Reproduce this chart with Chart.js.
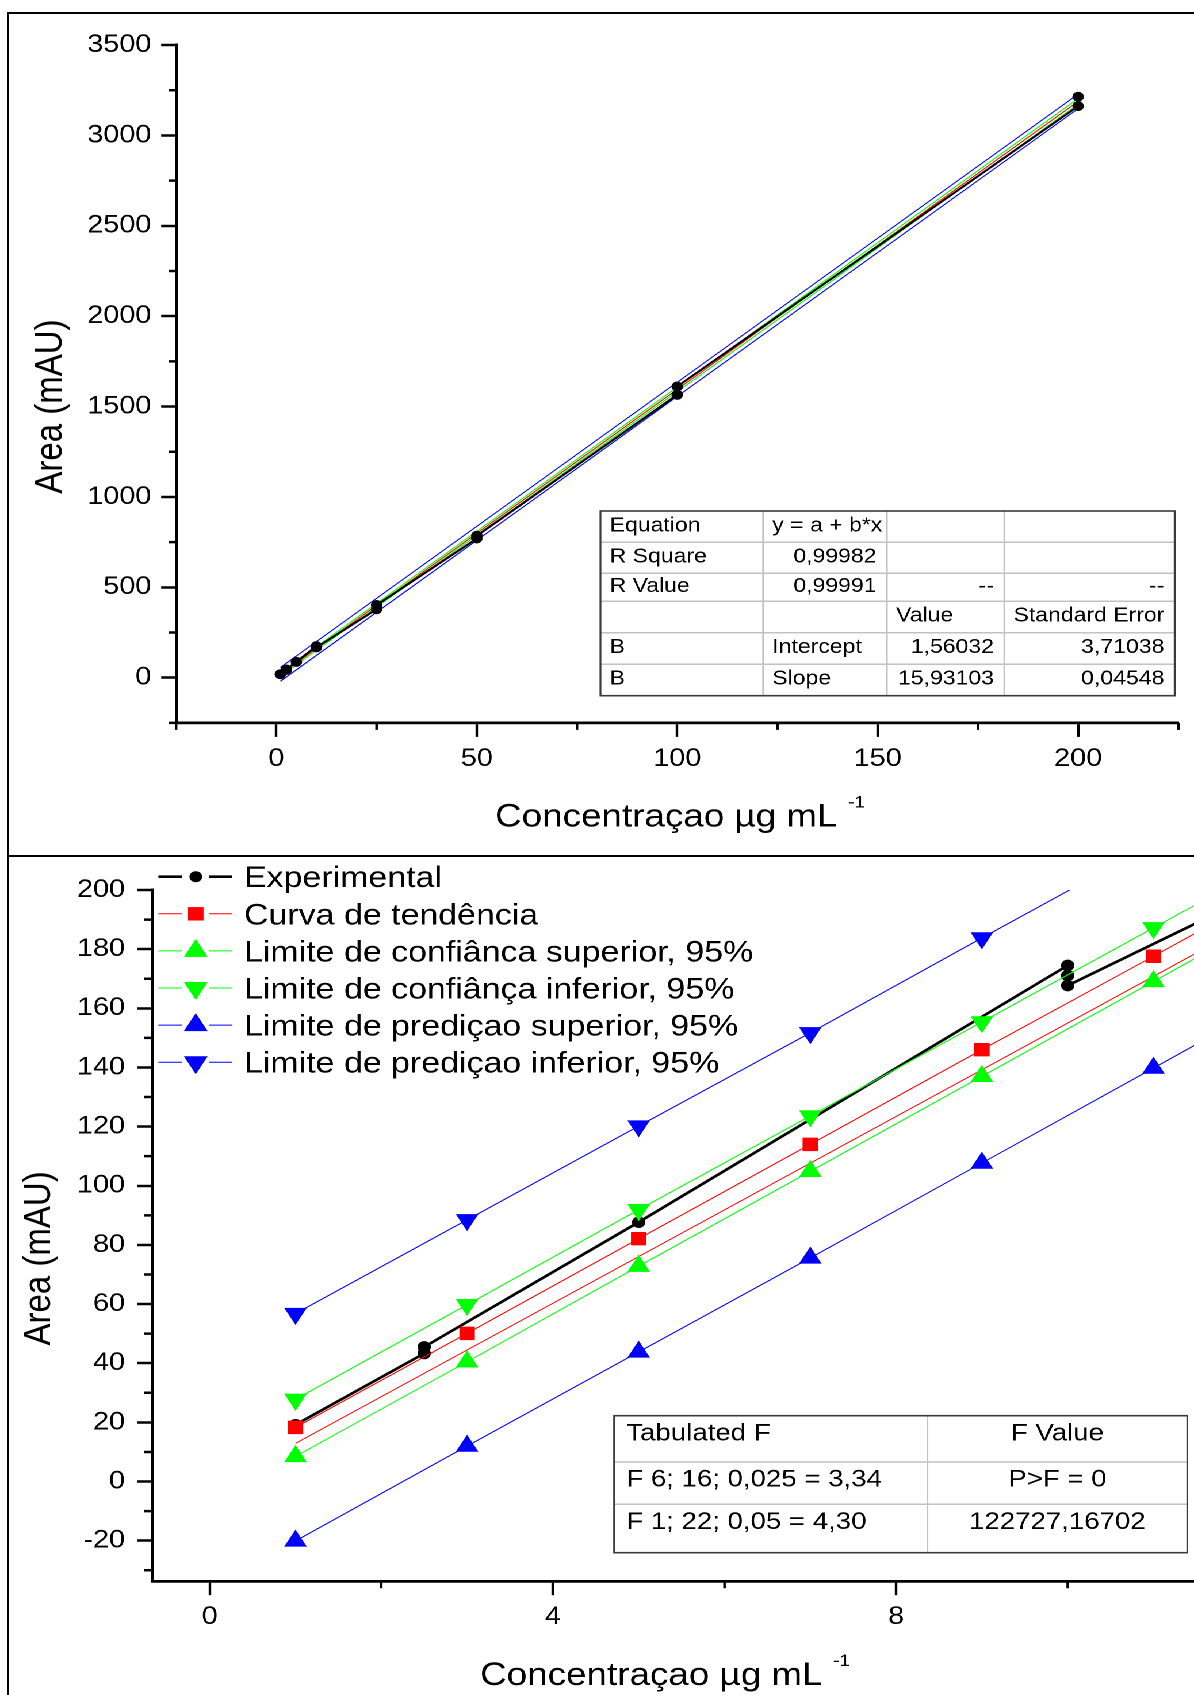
<!DOCTYPE html>
<html>
<head>
<meta charset="utf-8">
<script src="https://cdn.jsdelivr.net/npm/chart.js@4.4.1/dist/chart.umd.min.js"></script>
<style>
html, body { margin: 0; padding: 0; background: #fff; overflow: hidden; }
/* the source figure is stretched ~15% horizontally, so draw narrow and stretch */
#page { position: absolute; left: 0; top: 0; width: 1038px; height: 1695px;
        transform: scaleX(1.15029); transform-origin: 0 0; }
#page canvas { position: absolute; left: 0; }
.rule { position: absolute; background: #000; }
</style>
</head>
<body>
<div id="page">
  <canvas id="topChart" width="1038" height="856" style="top:0"></canvas>
  <canvas id="bottomChart" width="1038" height="839" style="top:856px"></canvas>
  <div class="rule" style="left:6.3px; top:11.5px; width:1032px; height:2.5px"></div>
  <div class="rule" style="left:6.3px; top:11.5px; width:2.2px; height:1684px"></div>
  <div class="rule" style="left:6.3px; top:854.8px; width:1032px; height:2.5px"></div>
</div>
<script>
const FONT = "'Liberation Sans', Arial, Helvetica, sans-serif";
Chart.defaults.font.family = FONT;

// experimental points (both panels)
const expX = [1, 2.5, 2.5, 5, 10, 10, 10, 25, 25, 50, 50, 100, 100, 200, 200];
const expY = [19.2, 43.3, 45.5, 87.7, 174.5, 171.1, 167.7, 379, 402, 770, 785, 1565, 1611, 3162, 3214];

// top panel: fit and bands over full range
const bandX = [1, 200];
const fitTopY = [17.5, 3188];
const confUpperTopY = [27.5, 3204];
const confLowerTopY = [8.5, 3172];
const predUpperTopY = [56.5, 3228];
const predLowerTopY = [-20, 3148];

// bottom panel: low concentration detail
const zoomX = [1, 3, 5, 7, 9, 11, 13];
const curvaY = [18.3, 50.1, 82.1, 114.0, 146.0, 177.6, 209.5];
const confSupY = [8.5, 40.5, 72.8, 104.9, 137.0, 169.1, 201.2];
const confInfY = [27.8, 59.8, 91.9, 123.6, 155.4, 187.2, 219.0];
const predSupY = [-20.1, 12.0, 43.8, 75.6, 107.7, 139.8, 171.9];
const predInfY = [56.8, 88.5, 120.2, 151.7, 183.8, 215.5, 247.0];
const fitLineX = [1, 11.5];
const fitLineY = [12.9, 178.7];

const legendLabels = ['Experimental', 'Curva de tendência', 'Limite de confiânca superior, 95%',
  'Limite de confiânça inferior, 95%', 'Limite de prediçao superior, 95%', 'Limite de prediçao inferior, 95%'];

// ticks
const topXTicks = [0, 50, 100, 150, 200];
const topXMinor = [-25, 25, 75, 125, 175, 225];
const topYTicks = [0, 500, 1000, 1500, 2000, 2500, 3000, 3500];
const topYMinor = [-250, 250, 750, 1250, 1750, 2250, 2750, 3250];
const botXTicks = [0, 4, 8];
const botXMinor = [2, 6, 10];
const botYTicks = [-20, 0, 20, 40, 60, 80, 100, 120, 140, 160, 180, 200];
const botYMinor = [-30, -10, 10, 30, 50, 70, 90, 110, 130, 150, 170, 190];

// tables
const fitTable = [
  [['Equation', 'l'], ['y = a + b*x', 'l'], ['', 'l'], ['', 'l']],
  [['R Square', 'l'], ['0,99982', 'r'], ['', 'l'], ['', 'l']],
  [['R Value', 'l'], ['0,99991', 'r'], ['--', 'r'], ['--', 'r']],
  [['', 'l'], ['', 'l'], ['Value', 'l'], ['Standard Error', 'l']],
  [['B', 'l'], ['Intercept', 'l'], ['1,56032', 'r'], ['3,71038', 'r']],
  [['B', 'l'], ['Slope', 'l'], ['15,93103', 'r'], ['0,04548', 'r']]
];
const fTable = [
  [['Tabulated F', 'l'], ['F Value', 'c']],
  [['F 6; 16; 0,025 = 3,34', 'l'], ['P>F = 0', 'c']],
  [['F 1; 22; 0,05 = 4,30', 'l'], ['122727,16702', 'c']]
];

const pts = (xs, ys) => xs.map((x, i) => ({ x: x, y: ys[i] }));

function series(label, xs, ys, color, extra) {
  return Object.assign({
    label: label, data: pts(xs, ys), showLine: true, tension: 0,
    borderColor: color, backgroundColor: color, pointBackgroundColor: color,
    pointBorderWidth: 0, borderWidth: 1, pointRadius: 0, pointHoverRadius: 0
  }, extra);
}

function axisX(min, max, ticks) {
  return {
    type: 'linear', min: min, max: max,
    afterBuildTicks: s => { s.ticks = ticks.map(v => ({ value: v })); },
    afterFit: s => { s.height = 60; s.paddingLeft = 0; s.paddingRight = 0; },
    border: { display: true, color: '#000', width: 2.7 },
    grid: { drawOnChartArea: false, tickLength: 14, tickWidth: 2.2, tickColor: '#000' },
    ticks: { color: '#000', font: { size: 25 }, padding: 7, autoSkip: false, maxRotation: 0,
             callback: v => String(v) }
  };
}

function axisY(min, max, ticks, width, pad) {
  return {
    type: 'linear', min: min, max: max,
    afterBuildTicks: s => { s.ticks = ticks.map(v => ({ value: v })); },
    afterFit: s => { s.width = width; s.paddingTop = 0; s.paddingBottom = 0; },
    border: { display: true, color: '#000', width: 2.6 },
    grid: { drawOnChartArea: false, tickLength: 13, tickWidth: 2.5, tickColor: '#000' },
    ticks: { color: '#000', font: { size: 25 }, padding: pad, autoSkip: false,
             callback: v => String(v) }
  };
}

function drawMarker(ctx, style, x, y, r, rot, color) {
  ctx.save();
  ctx.translate(x, y);
  ctx.rotate((rot || 0) * Math.PI / 180);
  ctx.fillStyle = color;
  ctx.beginPath();
  if (style === 'circle') {
    ctx.arc(0, 0, r, 0, 2 * Math.PI);
  } else if (style === 'rect') {
    const s = r * Math.SQRT1_2;
    ctx.rect(-s, -s, 2 * s, 2 * s);
  } else {
    ctx.moveTo(0, -r);
    ctx.lineTo(r * 0.8660254, r * 0.5);
    ctx.lineTo(-r * 0.8660254, r * 0.5);
    ctx.closePath();
  }
  ctx.fill();
  ctx.restore();
}

function drawTable(ctx, cells, cols, rows, font, baseOff, padL, padR) {
  const x0 = cols[0], x1 = cols[cols.length - 1], y0 = rows[0], y1 = rows[rows.length - 1];
  ctx.fillStyle = '#fff';
  ctx.fillRect(x0, y0, x1 - x0, y1 - y0);
  ctx.strokeStyle = '#c2c2c2';
  ctx.lineWidth = 1.5;
  ctx.beginPath();
  cols.slice(1, -1).forEach(c => { ctx.moveTo(c, y0); ctx.lineTo(c, y1); });
  rows.slice(1, -1).forEach(r => { ctx.moveTo(x0, r); ctx.lineTo(x1, r); });
  ctx.stroke();
  ctx.strokeStyle = '#3a3a3a';
  ctx.lineWidth = 1.6;
  ctx.strokeRect(x0, y0, x1 - x0, y1 - y0);
  ctx.fillStyle = '#000';
  ctx.font = font;
  ctx.textBaseline = 'alphabetic';
  cells.forEach((row, i) => {
    const y = baseOff(rows[i], rows[i + 1]);
    row.forEach((cell, j) => {
      const [txt, al] = cell;
      if (!txt) return;
      if (al === 'l') { ctx.textAlign = 'left'; ctx.fillText(txt, cols[j] + padL, y); }
      else if (al === 'r') { ctx.textAlign = 'right'; ctx.fillText(txt, cols[j + 1] - padR, y); }
      else { ctx.textAlign = 'center'; ctx.fillText(txt, (cols[j] + cols[j + 1]) / 2, y); }
    });
  });
}

function drawXTitle(ctx, x, base) {
  ctx.fillStyle = '#000';
  ctx.textAlign = 'left';
  ctx.textBaseline = 'alphabetic';
  ctx.font = '32px ' + FONT;
  const main = 'Concentraçao µg mL';
  ctx.fillText(main, x, base);
  const w = ctx.measureText(main).width;
  ctx.font = '17px ' + FONT;
  ctx.fillText('-1', x + w + 9, base - 19);
}

function drawYTitle(ctx, xBase, yc) {
  ctx.save();
  ctx.translate(xBase, yc);
  ctx.rotate(-Math.PI / 2);
  ctx.fillStyle = '#000';
  ctx.font = '33px ' + FONT;
  ctx.textAlign = 'center';
  ctx.textBaseline = 'alphabetic';
  ctx.fillText('Area (mAU)', 0, 0);
  ctx.restore();
}

function minorTicks(ctx, chart, xMinor, yMinor, yLen) {
  const xs = chart.scales.x, ys = chart.scales.y;
  ctx.strokeStyle = '#000';
  ctx.lineWidth = 2.2;
  ctx.beginPath();
  xMinor.forEach(v => { const p = xs.getPixelForValue(v); ctx.moveTo(p, xs.top); ctx.lineTo(p, xs.top + 7); });
  ctx.stroke();
  ctx.lineWidth = 2.5;
  ctx.beginPath();
  yMinor.forEach(v => { const p = ys.getPixelForValue(v); ctx.moveTo(ys.right, p); ctx.lineTo(ys.right - yLen, p); });
  ctx.stroke();
}

const topDecor = {
  id: 'topDecor',
  afterDraw(chart) {
    const ctx = chart.ctx;
    ctx.save();
    minorTicks(ctx, chart, topXMinor, topYMinor, 6.5);
    drawYTitle(ctx, 53.5, 406.5);
    drawXTitle(ctx, 430.4, 826.7);
    drawTable(ctx, fitTable, [522, 663.4, 771, 873.1, 1021.2],
      [511, 542.3, 573.3, 601.3, 632.7, 664.3, 695.7], '20px ' + FONT,
      (a, b) => (a + b) / 2 + 4.7, 8, 9);
    ctx.restore();
  }
};

const bottomDecor = {
  id: 'bottomDecor',
  afterDraw(chart) {
    const ctx = chart.ctx;
    ctx.save();
    minorTicks(ctx, chart, botXMinor, botYMinor, 7);
    drawYTitle(ctx, 43.5, 402.4);
    drawXTitle(ctx, 417.4, 829);
    drawTable(ctx, fTable, [533.9, 806.3, 1032.2], [559.7, 606, 648.3, 696.7], '24px ' + FONT,
      (a, b) => a + 24.6, 10.6, 10);
    // legend
    const items = chart.data.datasets.filter(d => d.legendIndex !== undefined)
      .sort((a, b) => a.legendIndex - b.legendIndex);
    items.forEach((d, i) => {
      const y = 20.7 + i * 37.1;
      ctx.strokeStyle = d.borderColor;
      ctx.lineWidth = d.borderWidth;
      ctx.beginPath();
      ctx.moveTo(137.7, y); ctx.lineTo(158.5, y);
      ctx.moveTo(182, y); ctx.lineTo(201.5, y);
      ctx.stroke();
      drawMarker(ctx, d.pointStyle, 170.2, y, d.legendRadius, d.pointRotation, d.borderColor);
      ctx.fillStyle = '#000';
      ctx.font = '29.5px ' + FONT;
      ctx.textAlign = 'left';
      ctx.textBaseline = 'alphabetic';
      ctx.fillText(legendLabels[d.legendIndex], 212.1, y + 10.5);
    });
    ctx.restore();
  }
};

const common = {
  responsive: false, animation: false, events: [], devicePixelRatio: 2,
  plugins: { legend: { display: false }, tooltip: { enabled: false } }
};

new Chart(document.getElementById('topChart'), {
  type: 'scatter',
  data: {
    datasets: [
      series('Experimental', expX, expY, '#000000', { borderWidth: 2, pointRadius: 5, pointStyle: 'circle', order: 0 }),
      series('Fit', bandX, fitTopY, '#ff0000', { order: 1 }),
      series('Conf upper', bandX, confUpperTopY, '#00ff00', { order: 2 }),
      series('Conf lower', bandX, confLowerTopY, '#00ff00', { order: 2 }),
      series('Pred upper', bandX, predUpperTopY, '#0000ff', { order: 3 }),
      series('Pred lower', bandX, predLowerTopY, '#0000ff', { order: 3 })
    ]
  },
  options: Object.assign({}, common, {
    layout: { autoPadding: false, padding: { top: 45, left: 0, right: 13.6, bottom: 73.1 } },
    scales: { x: axisX(-25, 225, topXTicks), y: axisY(-250, 3500, topYTicks, 153.1, 8.6) }
  }),
  plugins: [topDecor]
});

new Chart(document.getElementById('bottomChart'), {
  type: 'scatter',
  data: {
    datasets: [
      series(legendLabels[5], zoomX, predInfY, '#0000ff', { pointRadius: 11.4, pointStyle: 'triangle', pointRotation: 180, order: 1, legendIndex: 5, legendRadius: 12 }),
      series(legendLabels[4], zoomX, predSupY, '#0000ff', { pointRadius: 11.4, pointStyle: 'triangle', pointRotation: 0, order: 2, legendIndex: 4, legendRadius: 12 }),
      series(legendLabels[3], zoomX, confInfY, '#00ff00', { pointRadius: 11.4, pointStyle: 'triangle', pointRotation: 180, order: 3, legendIndex: 3, legendRadius: 12 }),
      series(legendLabels[2], zoomX, confSupY, '#00ff00', { pointRadius: 11.4, pointStyle: 'triangle', pointRotation: 0, order: 4, legendIndex: 2, legendRadius: 12 }),
      series(legendLabels[1], zoomX, curvaY, '#ff0000', { pointRadius: 9.5, pointStyle: 'rect', order: 5, legendIndex: 1, legendRadius: 9.5 }),
      series('Linear fit', fitLineX, fitLineY, '#ff0000', { order: 6 }),
      series(legendLabels[0], expX, expY, '#000000', { borderWidth: 2.6, pointRadius: 5.8, pointStyle: 'circle', order: 7, legendIndex: 0, legendRadius: 5.5 })
    ]
  },
  options: Object.assign({}, common, {
    layout: { autoPadding: false, padding: { top: 34, left: 0, right: 0, bottom: 53.8 } },
    scales: { x: axisX(-0.669, 11.472, botXTicks), y: axisY(-33.7, 200, botYTicks, 132.4, 10.7) }
  }),
  plugins: [bottomDecor]
});
</script>
</body>
</html>
